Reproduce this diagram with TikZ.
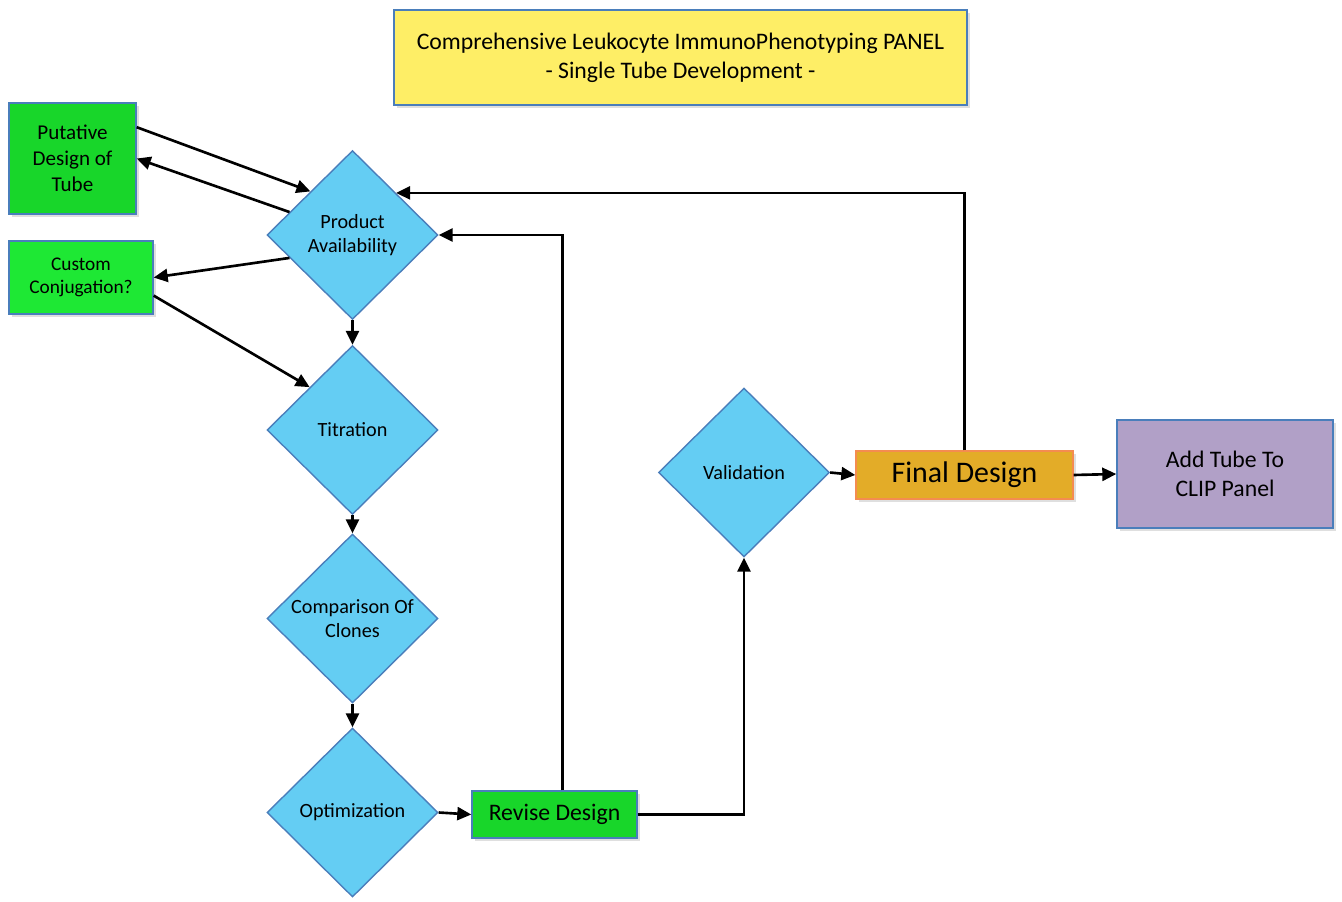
\documentclass[tikz,border=0pt]{standalone}
\usepackage{fontspec}
\setmainfont{Carlito}
\usetikzlibrary{positioning,arrows.meta,calc,shapes.geometric,shadows}
\definecolor{DiamondBlue}{RGB}{100,205,243}
\definecolor{EdgeBlue}{RGB}{74,126,187}
\definecolor{BoxGreen}{RGB}{24,214,42}
\definecolor{BrightGreen}{RGB}{30,232,52}
\definecolor{TitleYellow}{RGB}{254,238,102}
\definecolor{FinalOrange}{RGB}{227,172,40}
\definecolor{FinalEdge}{RGB}{244,140,80}
\definecolor{PanelPurple}{RGB}{177,160,199}
\tikzset{
  flow/.style={-{Triangle[length=2.8mm,width=2.6mm]},line width=1.5pt,draw=black},
  box/.style={draw=EdgeBlue,line width=0.8pt,align=center,inner sep=2pt,
    drop shadow={opacity=0.25,shadow xshift=0.6mm,shadow yshift=-0.6mm}},
  greenbox/.style={box,fill=BoxGreen},
  decision/.style={diamond,draw=EdgeBlue,line width=0.8pt,fill=DiamondBlue,
    inner sep=0pt,minimum width=3.42cm,minimum height=3.38cm,align=center,
    font=\fontsize{11.5}{13.6}\selectfont}
}
\begin{document}
\begin{tikzpicture}[x=0.02cm,y=-0.02cm]
  \useasboundingbox (0,0) rectangle (1342,902);
  % title
  \node[box,fill=TitleYellow,minimum width=11.46cm,minimum height=1.9cm,
    font=\fontsize{13.5}{16.5}\selectfont] (title) at (680.5,57.5)
    {Comprehensive Leukocyte ImmunoPhenotyping PANEL\\- Single Tube Development -};
  % left boxes
  \node[greenbox,minimum width=2.54cm,minimum height=2.22cm,
    font=\fontsize{12}{14.8}\selectfont] (put) at (72.5,158.5) {Putative\\Design of\\Tube};
  \node[box,fill=BrightGreen,minimum width=2.88cm,minimum height=1.46cm,
    font=\fontsize{11}{13}\selectfont] (cus) at (81,277.5) {Custom\\Conjugation?};
  % decisions
  \node[decision] (pa) at (352.5,235) {Product\\Availability};
  \node[decision] (tit) at (352.5,430) {Titration};
  \node[decision] (cmp) at (352.5,618.5) {Comparison Of\\Clones};
  \node[decision] (opt) at (352.5,812.5) {Optimization};
  \node[decision] (val) at (744,472.5) {Validation};
  % result boxes
  \node[greenbox,minimum width=3.3cm,minimum height=0.94cm,
    font=\fontsize{13.5}{16}\selectfont] (rev) at (554.5,814.5) {Revise Design};
  \node[box,draw=FinalEdge,fill=FinalOrange,minimum width=4.34cm,minimum height=0.96cm,
    font=\fontsize{17}{20}\selectfont] (fin) at (964.5,475) {Final Design};
  \node[box,fill=PanelPurple,minimum width=4.32cm,minimum height=2.16cm,
    font=\fontsize{13.5}{16.4}\selectfont] (add) at (1225,474) {Add Tube To\\CLIP Panel};
  % connectors
  \draw[flow] (put.26) -- (pa.134);
  \draw[flow] (pa.160) -- (put.east);
  \draw[flow] (pa.200) -- (cus.east);
  \draw[flow] (cus.346) -- (tit.135);
  \draw[flow] (pa.south) -- (tit.north);
  \draw[flow] (tit.south) -- (cmp.north);
  \draw[flow] (cmp.south) -- (opt.north);
  \draw[flow] (opt.east) -- (rev.west);
  \draw[flow] ([xshift=0.16cm]rev.north) |- (pa.east);
  \draw[flow] (rev.east) -| (val.south);
  \draw[flow] (val.east) -- (fin.west);
  \draw[flow] (fin.north) |- (pa.44);
  \draw[flow] (fin.east) -- (add.west);
\end{tikzpicture}
\end{document}
